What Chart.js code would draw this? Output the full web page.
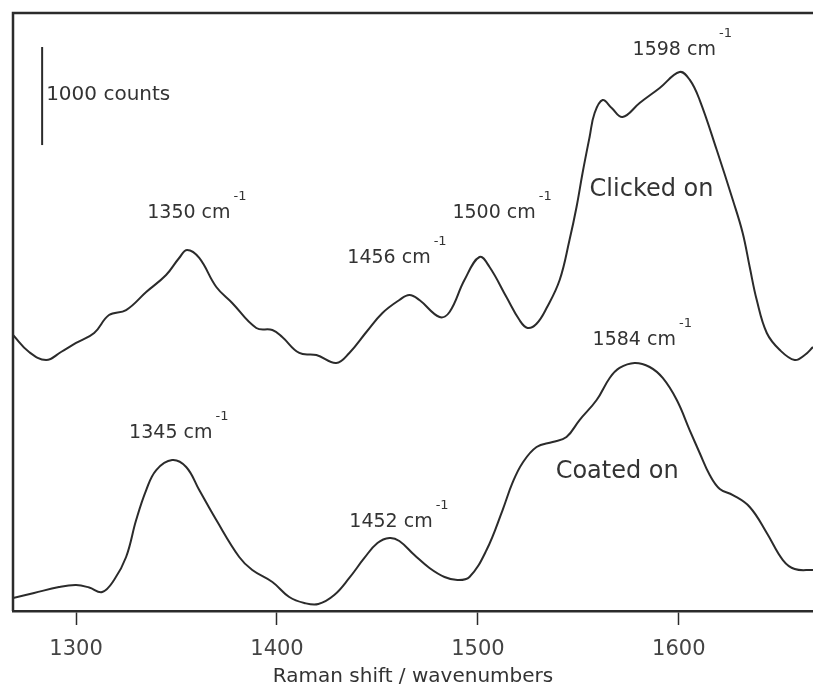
<!DOCTYPE html>
<html>
<head>
<meta charset="utf-8">
<script src="https://cdn.jsdelivr.net/npm/chart.js@4"></script>
<style>
  html, body { margin: 0; padding: 0; background: #fff; }
  #ramanChart { display: block; }
</style>
</head>
<body>
<canvas id="ramanChart" width="813" height="689"></canvas>
<script>
// Raman shift (cm-1) and intensity (counts, offset)
const clickedShift = [1268.6, 1276.6, 1285.1, 1292.5, 1300, 1309, 1316.4, 1324.9, 1334.9, 1344.8, 1351.3, 1355.3, 1361.3, 1369.8, 1377.7, 1389.7, 1397.7, 1402.6, 1411.1, 1419.6, 1429.5, 1436, 1444.5, 1452.5, 1460.9, 1465.9, 1470.9, 1480.9, 1485.9, 1493.3, 1500.8, 1505.8, 1514.2, 1520.7, 1524.7, 1529.2, 1534.2, 1540.7, 1545.6, 1549.1, 1552.1, 1555.6, 1558.1, 1562.1, 1566.6, 1572, 1580.5, 1590.5, 1600.4, 1605.4, 1610.4, 1618.9, 1626.9, 1631.8, 1635.3, 1638.8, 1643.8, 1650.3, 1657.7, 1662.7, 1666.8];
const clickedCounts = [2815, 2642, 2560, 2642, 2734, 2836, 3019, 3070, 3254, 3427, 3601, 3682, 3601, 3305, 3142, 2887, 2866, 2795, 2632, 2611, 2530, 2632, 2846, 3040, 3172, 3223, 3172, 2999, 3050, 3376, 3611, 3509, 3203, 2968, 2887, 2930, 3090, 3376, 3784, 4121, 4468, 4835, 5080, 5212, 5131, 5039, 5182, 5335, 5498, 5420, 5212, 4702, 4192, 3856, 3509, 3172, 2836, 2662, 2560, 2611, 2693];

const coatedShift = [1268.6, 1279.1, 1291.5, 1300, 1306.5, 1313, 1318.9, 1324.9, 1329.9, 1334.9, 1339.9, 1347.8, 1354.8, 1361.3, 1369.8, 1381.2, 1387.7, 1397.7, 1406.1, 1413.6, 1420.6, 1428.5, 1436, 1443.5, 1450, 1456, 1460.9, 1468.4, 1475.9, 1483.4, 1489.8, 1495.8, 1504.3, 1512.3, 1517.2, 1522.2, 1529.2, 1537.2, 1544.1, 1550.6, 1559.1, 1565.6, 1570.5, 1578, 1585.5, 1592, 1599, 1605.4, 1610.4, 1615.4, 1620.4, 1626.9, 1635.3, 1643.8, 1651.8, 1657.7, 1666.8];
const coatedCounts = [133, 184, 245, 265, 240, 194, 316, 551, 928, 1234, 1438, 1540, 1469, 1234, 928, 551, 418, 296, 143, 82, 71, 163, 337, 541, 694, 745, 714, 571, 439, 347, 316, 347, 622, 1030, 1306, 1510, 1673, 1724, 1775, 1948, 2152, 2377, 2479, 2530, 2489, 2377, 2152, 1846, 1612, 1387, 1244, 1183, 1061, 796, 520, 428, 418];

const tickValues = [1300, 1400, 1500, 1600];
const peakNames = ['1598', '1350', '1456', '1500', '1584', '1345', '1452'];
const seriesNames = ['Clicked on', 'Coated on'];
const scaleBarCounts = 1000;

const ink = '#2b2b2b';

// where the notes sit, in data units (left edge of text, middle of text)
const peakSpots = [[1577, 5722], [1335.4, 4060], [1435, 3601], [1487.3, 4060], [1557.1, 2764], [1326.4, 1816], [1436, 908]];
const nameSpots = [[1555.6, 4294], [1538.7, 1418]];
const barSpot = { x: 1283.1, bottom: 4753, textX: 1285.1, textY: 5263 };

const notesPlugin = {
    id: 'notes',
    afterDatasetsDraw(chart) {
        const ctx = chart.ctx;
        const xs = chart.scales.x;
        const ys = chart.scales.y;
        const area = chart.chartArea;
        ctx.save();

        // frame: top and left edge
        ctx.strokeStyle = ink;
        ctx.lineWidth = 2.5;
        ctx.beginPath();
        ctx.moveTo(area.left, area.bottom);
        ctx.lineTo(area.left, area.top);
        ctx.lineTo(area.right, area.top);
        ctx.stroke();

        // scale bar
        ctx.lineWidth = 2;
        ctx.beginPath();
        ctx.moveTo(xs.getPixelForValue(barSpot.x), ys.getPixelForValue(barSpot.bottom));
        ctx.lineTo(xs.getPixelForValue(barSpot.x), ys.getPixelForValue(barSpot.bottom + scaleBarCounts));
        ctx.stroke();

        ctx.fillStyle = '#333';
        ctx.textBaseline = 'middle';
        ctx.textAlign = 'left';
        ctx.font = '20px "DejaVu Sans"';
        ctx.fillText(scaleBarCounts + ' counts', xs.getPixelForValue(barSpot.textX), ys.getPixelForValue(barSpot.textY));

        peakNames.forEach((name, i) => {
            const px = xs.getPixelForValue(peakSpots[i][0]);
            const py = ys.getPixelForValue(peakSpots[i][1]);
            ctx.font = '19px "DejaVu Sans"';
            const main = name + ' cm';
            ctx.fillText(main, px, py);
            const w = ctx.measureText(main).width;
            ctx.font = '13px "DejaVu Sans"';
            ctx.fillText('-1', px + w + 3, py - 16);
        });

        ctx.font = '24px "DejaVu Sans"';
        seriesNames.forEach((name, i) => {
            ctx.fillText(name, xs.getPixelForValue(nameSpots[i][0]), ys.getPixelForValue(nameSpots[i][1]));
        });
        ctx.restore();
    }
};

const ctx = document.getElementById('ramanChart').getContext('2d');
const ramanChart = new Chart(ctx, {
    type: 'line',
    data: {
        datasets: [{
            label: seriesNames[0],
            data: clickedShift.map((x, i) => ({ x: x, y: clickedCounts[i] })),
            borderColor: ink,
            borderWidth: 2,
            pointRadius: 0,
            tension: 0.4,
            fill: false
        }, {
            label: seriesNames[1],
            data: coatedShift.map((x, i) => ({ x: x, y: coatedCounts[i] })),
            borderColor: ink,
            borderWidth: 2,
            pointRadius: 0,
            tension: 0.4,
            fill: false
        }]
    },
    options: {
        responsive: false,
        animation: false,
        events: [],
        layout: {
            padding: { left: 13, top: 13, right: 0, bottom: 0 }
        },
        plugins: {
            legend: { display: false },
            title: { display: false },
            tooltip: { enabled: false }
        },
        scales: {
            x: {
                type: 'linear',
                min: 1268.6,
                max: 1666.8,
                afterBuildTicks: (scale) => {
                    scale.ticks = tickValues.map(v => ({ value: v }));
                },
                afterFit: (scale) => {
                    scale.height = 78;
                },
                grid: {
                    display: true,
                    drawOnChartArea: false,
                    drawTicks: true,
                    tickLength: 14,
                    tickWidth: 1.5,
                    color: ink
                },
                border: { display: true, color: ink, width: 2.5 },
                ticks: {
                    color: '#444',
                    padding: 12,
                    autoSkip: false,
                    maxRotation: 0,
                    font: { family: 'DejaVu Sans', size: 21 },
                    callback: (v) => String(v)
                },
                title: {
                    display: true,
                    text: 'Raman shift / wavenumbers',
                    color: '#333',
                    font: { family: 'DejaVu Sans', size: 20 },
                    padding: { top: 0, bottom: 0 }
                }
            },
            y: {
                type: 'linear',
                display: false,
                min: 0,
                max: 6100
            }
        }
    },
    plugins: [notesPlugin]
});
</script>
</body>
</html>
